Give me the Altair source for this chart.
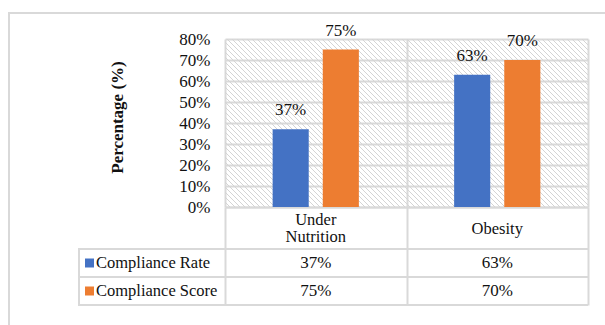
import altair as alt
import pandas as pd

# ---- data ----
categories = ["Under Nutrition", "Obesity"]
series = ["Compliance Rate", "Compliance Score"]
compliance_rate = [0.37, 0.63]
compliance_score = [0.75, 0.70]
colors = ["#4472C4", "#ED7D31"]
y_ticks = [0, 0.1, 0.2, 0.3, 0.4, 0.5, 0.6, 0.7, 0.8]

rows = []
for i, c in enumerate(categories):
    rows.append({"cat": c, "series": series[0], "value": compliance_rate[i]})
    rows.append({"cat": c, "series": series[1], "value": compliance_score[i]})
df = pd.DataFrame(rows)
cat_df = pd.DataFrame({"cat": categories})
ser_df = pd.DataFrame({"series": series})

# ---- style ----
W, H = 363, 168
GRID = "#d9d9d9"
TXT = "#111111"
SERIF = "Liberation Serif"

xscale = alt.Scale(domain=categories, paddingInner=0, paddingOuter=0)
yscale = alt.Scale(domain=[0, 0.8])
cscale = alt.Scale(domain=series, range=colors)
oscale = alt.Scale(domain=series, paddingInner=0.28, paddingOuter=0.95)

x_axis = alt.Axis(
    title=None, labels=False, grid=True, gridColor=GRID, gridWidth=2,
    tickBand="extent", ticks=True, tickSize=98, tickColor=GRID, tickWidth=2,
    domain=True, domainColor=GRID, domainWidth=2,
)
y_axis = alt.Axis(
    values=y_ticks, format=".0%", grid=True, gridColor=GRID, gridWidth=2,
    ticks=False, domain=False, labelFont=SERIF, labelFontSize=17,
    labelColor=TXT, labelPadding=15, labelOverlap=False,
    title="Percentage (%)", titleFont=SERIF, titleFontSize=17,
    titleFontWeight="bold", titleColor=TXT, titleAngle=270,
    titleX=-108, titleY=78, titleAlign="center", titleBaseline="middle",
)

X = alt.X("cat:N", scale=xscale, sort=categories, axis=x_axis)
Y = alt.Y("value:Q", scale=yscale, axis=y_axis)
XO = alt.XOffset("series:N", scale=oscale, sort=series)

bars = alt.Chart(df).mark_bar().encode(
    x=X, xOffset=XO, y=Y,
    color=alt.Color("series:N", scale=cscale, legend=None),
)

bar_labels = alt.Chart(df).mark_text(
    font=SERIF, fontSize=17, color=TXT, baseline="middle", dy=-19
).encode(
    x=X, xOffset=XO, y=Y,
    text=alt.Text("value:Q", format=".0%"),
)

layers = [bars, bar_labels]

# category labels, vertically centred in the label row
LINE_H = 17
for c in categories:
    n_lines = len(c.split(" ")) if c == "Under Nutrition" else 1
    layers.append(
        alt.Chart(cat_df).transform_filter(alt.datum.cat == c).transform_calculate(
            lab="datum.cat == 'Under Nutrition' ? split(datum.cat, ' ') : datum.cat"
        ).mark_text(
            font=SERIF, fontSize=16.5, color=TXT, baseline="middle", lineHeight=LINE_H
        ).encode(x=X, y=alt.value(189.5 - (n_lines - 1) * LINE_H / 2), text="lab:N")
    )

row_y = [224, 252]
for i, s in enumerate(series):
    layers.append(
        alt.Chart(df).transform_filter(alt.datum.series == s).mark_text(
            font=SERIF, fontSize=17, color=TXT, baseline="middle"
        ).encode(x=X, y=alt.value(row_y[i]), text=alt.Text("value:Q", format=".0%"))
    )
    sub = ser_df[ser_df.series == s]
    layers.append(
        alt.Chart(sub).mark_square(size=81, opacity=1, clip=False).encode(
            x=alt.value(-135.5), y=alt.value(row_y[i]),
            color=alt.Color("series:N", scale=cscale, legend=None),
        )
    )
    layers.append(
        alt.Chart(sub).mark_text(
            font=SERIF, fontSize=16.5, color=TXT, align="left", baseline="middle"
        ).encode(x=alt.value(-129), y=alt.value(row_y[i]), text="series:N")
    )

# table lines
for yy in [210, 238, 266]:
    layers.append(
        alt.Chart(cat_df).mark_rule(color=GRID, strokeWidth=2).encode(
            x=alt.value(-146), x2=alt.value(W), y=alt.value(yy)
        )
    )
layers.append(
    alt.Chart(cat_df).mark_rule(color=GRID, strokeWidth=2).encode(
        x=alt.value(-146), y=alt.value(209), y2=alt.value(267)
    )
)
# outer frame (top and left)
layers.append(
    alt.Chart(cat_df).mark_rule(color=GRID, strokeWidth=2).encode(
        x=alt.value(-216), x2=alt.value(W + 20), y=alt.value(-26)
    )
)
layers.append(
    alt.Chart(cat_df).mark_rule(color=GRID, strokeWidth=2).encode(
        x=alt.value(-216), y=alt.value(-27), y2=alt.value(H + 120)
    )
)

main = alt.layer(*layers)

hatch = alt.Chart(alt.sequence(start=-H, stop=W, step=5, as_="s")).transform_calculate(
    hx="datum.s", hx2="datum.s + 168", hy="0", hy2="168"
).mark_rule(color="#d4d4d4", strokeWidth=1, clip=True).encode(
    x=alt.X("hx:Q", scale=None, axis=None),
    x2="hx2:Q",
    y=alt.Y("hy:Q", scale=None, axis=None),
    y2="hy2:Q",
)

chart = alt.layer(hatch, main).resolve_scale(
    x="independent", y="independent"
).properties(
    width=W, height=H,
    autosize=alt.AutoSizeParams(type="none"),
    padding={"left": 225, "top": 39, "right": 17, "bottom": 118},
    background="white",
).configure_view(stroke=None)

chart.save("out.html", embed_options={"renderer": "svg", "actions": False})
